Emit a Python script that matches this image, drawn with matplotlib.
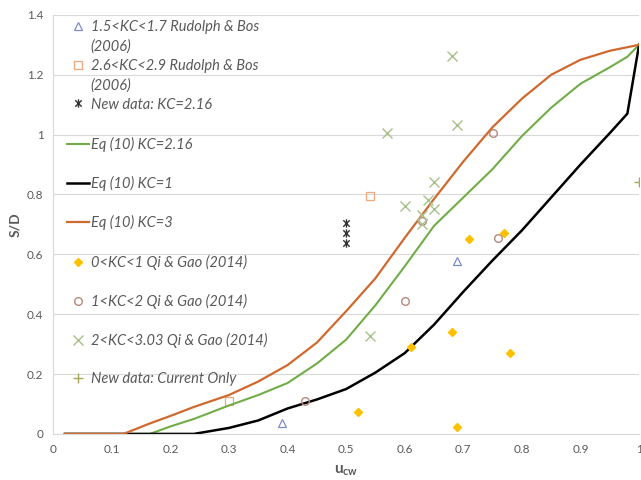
import matplotlib
matplotlib.use("Agg")
import matplotlib.pyplot as plt
from matplotlib.lines import Line2D
from matplotlib.path import Path

plt.rcParams['font.family'] = ['Lato', 'DejaVu Sans']
plt.rcParams['mathtext.fontset'] = 'custom'
plt.rcParams['mathtext.rm'] = 'Lato'
plt.rcParams['mathtext.bf'] = 'Lato:bold'

# Rudolph & Bos (2006)
rb_tri_x = [0.39, 0.69]
rb_tri_y = [0.037, 0.578]
rb_sq_x = [0.30, 0.54]
rb_sq_y = [0.11, 0.795]

# new data, KC = 2.16
new_x = [0.50, 0.50, 0.50]
new_y = [0.705, 0.671, 0.638]

# Qi & Gao (2014)
qg0_x = [0.52, 0.69, 0.61, 0.68, 0.78, 0.71, 0.77]
qg0_y = [0.073, 0.023, 0.29, 0.34, 0.27, 0.651, 0.671]
qg1_x = [0.43, 0.60, 0.63, 0.76, 0.75]
qg1_y = [0.11, 0.444, 0.71, 0.654, 1.005]
qg2_x = [0.54, 0.63, 0.63, 0.60, 0.64, 0.65, 0.65, 0.57, 0.69, 0.68]
qg2_y = [0.327, 0.70, 0.73, 0.761, 0.781, 0.751, 0.841, 1.005, 1.031, 1.262]

# current only
cur_x = [1.0]
cur_y = [0.84]

# Eq (10) curves
eq_x = [0.02, 0.12, 0.165, 0.2, 0.24, 0.3, 0.35, 0.4, 0.45, 0.5, 0.55, 0.6,
        0.65, 0.7, 0.75, 0.8, 0.85, 0.9, 0.95, 0.98, 1.0]
eq_kc216 = [0, 0, 0, 0.025, 0.05, 0.095, 0.13, 0.17, 0.235, 0.315, 0.43, 0.56,
            0.695, 0.79, 0.885, 0.995, 1.09, 1.17, 1.225, 1.26, 1.30]
eq_kc1 = [0, 0, 0, 0, 0, 0.02, 0.045, 0.085, 0.115, 0.15, 0.205, 0.27,
          0.365, 0.475, 0.58, 0.68, 0.79, 0.90, 1.005, 1.07, 1.30]
eq_kc3 = [0, 0, 0.035, 0.06, 0.09, 0.13, 0.175, 0.23, 0.305, 0.41, 0.52, 0.655,
          0.785, 0.91, 1.025, 1.12, 1.2, 1.25, 1.28, 1.292, 1.30]

# asterisk marker: an x with a vertical bar
star = Path([(-1, -1), (1, 1), (-1, 1), (1, -1), (0, -1.3), (0, 1.3)],
            [Path.MOVETO, Path.LINETO, Path.MOVETO, Path.LINETO, Path.MOVETO, Path.LINETO])

fig = plt.figure(figsize=(6.41, 4.8), dpi=100)
ax = fig.add_axes([0.083, 0.096, 0.914, 0.873])

l_tri, = ax.plot(rb_tri_x, rb_tri_y, ls='none', marker='^', ms=5.5, mfc='none', mec='#7F8CCB', mew=0.9)
l_sq, = ax.plot(rb_sq_x, rb_sq_y, ls='none', marker='s', ms=5.5, mfc='none', mec='#F0A77C', mew=0.9)
l_new, = ax.plot(new_x, new_y, ls='none', marker=star, ms=6, color='#333333', mew=1.0)
l_g, = ax.plot(eq_x, eq_kc216, color='#70AD47', lw=1.5)
l_k, = ax.plot(eq_x, eq_kc1, color='black', lw=1.8)
l_o, = ax.plot(eq_x, eq_kc3, color='#D0692E', lw=1.6)
l_d, = ax.plot(qg0_x, qg0_y, ls='none', marker='D', ms=4.5, color='#FFC000')
l_c, = ax.plot(qg1_x, qg1_y, ls='none', marker='o', ms=5.5, mfc='none', mec='#B48A7C', mew=1.0)
l_x, = ax.plot(qg2_x, qg2_y, ls='none', marker='x', ms=6.5, color='#A8C18C', mew=1.0)
l_p, = ax.plot(cur_x, cur_y, ls='none', marker='+', ms=7, color='#A8A85A', mew=1.0)

ax.set_xlim(0, 1)
ax.set_ylim(0, 1.4)
ax.set_xticks([0, 0.1, 0.2, 0.3, 0.4, 0.5, 0.6, 0.7, 0.8, 0.9, 1])
ax.set_xticklabels(['0', '0.1', '0.2', '0.3', '0.4', '0.5', '0.6', '0.7', '0.8', '0.9', '1'])
ax.set_yticks([0, 0.2, 0.4, 0.6, 0.8, 1, 1.2, 1.4])
ax.set_yticklabels(['0', '0.2', '0.4', '0.6', '0.8', '1', '1.2', '1.4'])
ax.tick_params(length=0, labelsize=8.5, labelcolor='#595959', pad=7)
ax.yaxis.grid(True, color='#D9D9D9', lw=0.8)
ax.set_axisbelow(True)
for s in ['top', 'right']:
    ax.spines[s].set_visible(False)
for s in ['left', 'bottom']:
    ax.spines[s].set_color('#D9D9D9')
    ax.spines[s].set_linewidth(0.8)

ax.set_xlabel(r'$\mathbf{u}_{\mathbf{cw}}$', fontsize=11, color='#595959', labelpad=6)
ax.set_ylabel('S/D', fontsize=10, fontweight='bold', color='#595959', labelpad=4)

# blank handle for the wrapped second line of a label
blank = Line2D([], [], ls='none')

leg_kw = dict(frameon=False, prop={'style': 'italic', 'size': 10.5}, labelcolor='#595959',
              handlelength=1.5, handletextpad=0.15, borderaxespad=0)
leg1 = ax.legend([l_tri, blank, l_sq, blank, l_new],
                 ['1.5<KC<1.7 Rudolph & Bos', '(2006)', '2.6<KC<2.9 Rudolph & Bos', '(2006)',
                  'New data: KC=2.16'],
                 loc='upper left', bbox_to_anchor=(0.013, 1.002), labelspacing=0.36, **leg_kw)
ax.add_artist(leg1)
ax.legend([l_g, l_k, l_o, l_d, l_c, l_x, l_p],
          ['Eq (10) KC=2.16', 'Eq (10) KC=1', 'Eq (10) KC=3', '0<KC<1 Qi & Gao (2014)',
           '1<KC<2 Qi & Gao (2014)', '2<KC<3.03 Qi & Gao (2014)', 'New data: Current Only'],
          loc='upper left', bbox_to_anchor=(0.013, 0.723), labelspacing=1.66, **leg_kw)

fig.savefig('out.png', dpi=100)
